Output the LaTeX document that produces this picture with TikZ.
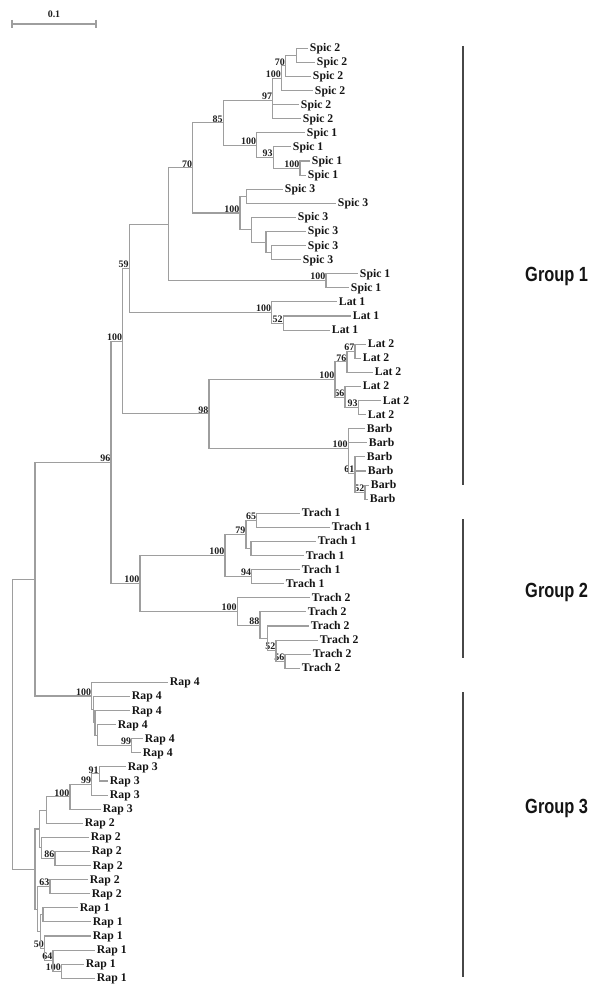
\documentclass[tikz,border=0pt]{standalone}
\usepackage{fontspec}
\setmainfont{Liberation Serif}
\newfontfamily\grpfont{Liberation Sans}
\usepackage{tikz}
\tikzstyle{branch}=[draw=black!38,line width=0.9pt]
\tikzstyle{leaf}=[anchor=west,inner xsep=1.5pt,inner ysep=0pt,text height=7.5pt,text depth=1.5pt,font=\fontsize{10}{11}\selectfont\bfseries,text=black!92]
\tikzstyle{bs}=[anchor=south east,inner sep=0.4pt,font=\fontsize{8.5}{9}\selectfont\bfseries,text=black!88]
\tikzstyle{grpbar}=[draw=black!72,line width=1.6pt]
\tikzstyle{grp}=[anchor=west,inner sep=0pt,font=\grpfont\fontsize{17.5}{19}\selectfont\bfseries,text=black!92]

\begin{document}
\begin{tikzpicture}[x=0.3mm,y=-0.3mm]
\useasboundingbox (0,0) rectangle (588,985);

\draw[branch] (12,20) -- (12,28) (12,24) -- (96,24) (96,20) -- (96,28);
\node[bs,anchor=center] (scale) at (54,14) {0.1};

\foreach \i/\x/\lab in {0/308/Spic 2, 1/315/Spic 2, 2/311/Spic 2, 3/313/Spic 2, 4/299/Spic 2, 5/301/Spic 2,
  6/305/Spic 1, 7/291/Spic 1, 8/310/Spic 1, 9/306/Spic 1,
  10/283/Spic 3, 11/336/Spic 3, 12/296/Spic 3, 13/306/Spic 3, 14/306/Spic 3, 15/301/Spic 3,
  16/358/Spic 1, 17/349/Spic 1,
  18/337/Lat 1, 19/351/Lat 1, 20/330/Lat 1,
  21/366/Lat 2, 22/361/Lat 2, 23/373/Lat 2, 24/361/Lat 2, 25/381/Lat 2, 26/366/Lat 2,
  27/365/Barb, 28/367/Barb, 29/365/Barb, 30/366/Barb, 31/369/Barb, 32/368/Barb,
  33/300/Trach 1, 34/330/Trach 1, 35/316/Trach 1, 36/304/Trach 1, 37/300/Trach 1, 38/284/Trach 1,
  39/310/Trach 2, 40/306/Trach 2, 41/309/Trach 2, 42/318/Trach 2, 43/311/Trach 2, 44/300/Trach 2,
  45/168/Rap 4, 46/130/Rap 4, 47/130/Rap 4, 48/116/Rap 4, 49/143/Rap 4, 50/141/Rap 4,
  51/126/Rap 3, 52/108/Rap 3, 53/108/Rap 3, 54/101/Rap 3,
  55/83/Rap 2, 56/89/Rap 2, 57/90/Rap 2, 58/91/Rap 2, 59/88/Rap 2, 60/90/Rap 2,
  61/78/Rap 1, 62/91/Rap 1, 63/91/Rap 1, 64/95/Rap 1, 65/84/Rap 1, 66/95/Rap 1}
  \node[leaf] (l\i) at (\x,48.3+14.09*\i) {\lab};

\foreach \nm/\x/\y/\bv in {a1/296.7/55.35/, a70/285.5/65.9/70, a100/281.5/78.3/100, a97/272.7/100.6/97,
  b100c/300/168.05/100, b93/273.3/157.5/93, b100/256.7/145.15/100, a85/223.3/122.9/85,
  c1/246.7/196.25/, c4/271.7/252.65/, c3/266/242.1/, c2/251.7/229.75/, c100/240/213/100,
  a70b/192.7/167.95/70, d100/326/280.75/100, e/168.3/224.35/,
  f52/283.3/323.05/52, f100/271.7/312.5/100, g59/129.3/268.4/59,
  h67/355/351.25/67, h76/347/361.8/76, h93/358.3/407.6/93, h66/345/397.05/66, h100/335/379.4/100,
  k52/365/492.15/52, k61/355/473.35/61, k100/348.3/448.3/100, m98/209/413.85/98, p100/122.7/341.1/100,
  q65/256.7/520.35/65, q2/251/548.5/, q79/246/534.4/79, q94/251.7/576.65/94, q100/225/555.5/100,
  r56/285/661.25/56, r52/276/650.7/52, r3/267.3/638.35/, r88/260/625.1/88, r100/237.3/611.45/100,
  s100/140/583.5/100, t96/111/462.3/96,
  u99/131.7/745.75/99, u3/97.7/735.2/, u2/95/722.85/, u1/93.3/709.6/, u100/91.7/696/100, v/35/579.15/,
  w91/99.3/773.95/91, w99/91.7/784.5/99, w100/70/796.85/100,
  x1/46.7/810.1/, x86/55/858.45/86, x2/41.7/847.9/, x3/39.3/829/, x63/50/886.65/63,
  y1/43/914.85/, y100/61.5/971.25/100, y64/53/960.7/64, y50/44.5/948.35/50, y2/40.5/931.6/,
  z1/37.5/909.1/, z0/35/869.05/, root/12.7/724.1/}
  {\coordinate (\nm) at (\x,\y);
   \node[bs] (bs\nm) at (\nm) {\bv};}

\foreach \pa/\ch in {a1/l0, a1/l1, a70/a1, a70/l2, a100/a70, a100/l3, a97/a100, a97/l4, a97/l5,
  b100c/l8, b100c/l9, b93/l7, b93/b100c, b100/l6, b100/b93, a85/a97, a85/b100,
  c1/l10, c1/l11, c4/l14, c4/l15, c3/l13, c3/c4, c2/l12, c2/c3, c100/c1, c100/c2,
  a70b/a85, a70b/c100, d100/l16, d100/l17, e/a70b, e/d100,
  f52/l19, f52/l20, f100/l18, f100/f52, g59/e, g59/f100,
  h67/l21, h67/l22, h76/h67, h76/l23, h93/l25, h93/l26, h66/l24, h66/h93, h100/h76, h100/h66,
  k52/l31, k52/l32, k61/l29, k61/l30, k61/k52, k100/l27, k100/l28, k100/k61,
  m98/h100, m98/k100, p100/g59, p100/m98,
  q65/l33, q65/l34, q2/l35, q2/l36, q79/q65, q79/q2, q94/l37, q94/l38, q100/q79, q100/q94,
  r56/l43, r56/l44, r52/l42, r52/r56, r3/l41, r3/r52, r88/l40, r88/r3, r100/l39, r100/r88,
  s100/q100, s100/r100, t96/p100, t96/s100,
  u99/l49, u99/l50, u3/l48, u3/u99, u2/l47, u2/u3, u1/l46, u1/u2, u100/l45, u100/u1, v/t96, v/u100,
  w91/l51, w91/l52, w99/w91, w99/l53, w100/w99, w100/l54,
  x1/w100, x1/l55, x86/l57, x86/l58, x2/l56, x2/x86, x3/x1, x3/x2, x63/l59, x63/l60,
  y1/l61, y1/l62, y100/l65, y100/l66, y64/l64, y64/y100, y50/l63, y50/y64, y2/y1, y2/y50,
  z1/x63, z1/y2, z0/x3, z0/z1, root/v, root/z0}
  \draw[branch] (\pa) |- (\ch);

\coordinate (g1a) at (463,46);  \coordinate (g1b) at (463,485);
\coordinate (g2a) at (463,519); \coordinate (g2b) at (463,658);
\coordinate (g3a) at (463,692); \coordinate (g3b) at (463,977);
\draw[grpbar] (g1a) -- (g1b);
\draw[grpbar] (g2a) -- (g2b);
\draw[grpbar] (g3a) -- (g3b);
\node[grp] (grp1) at (525,276.7) {\scalebox{0.8}[1]{Group 1}};
\node[grp] (grp2) at (525,592) {\scalebox{0.8}[1]{Group 2}};
\node[grp] (grp3) at (525,808) {\scalebox{0.8}[1]{Group 3}};

\end{tikzpicture}
\end{document}
